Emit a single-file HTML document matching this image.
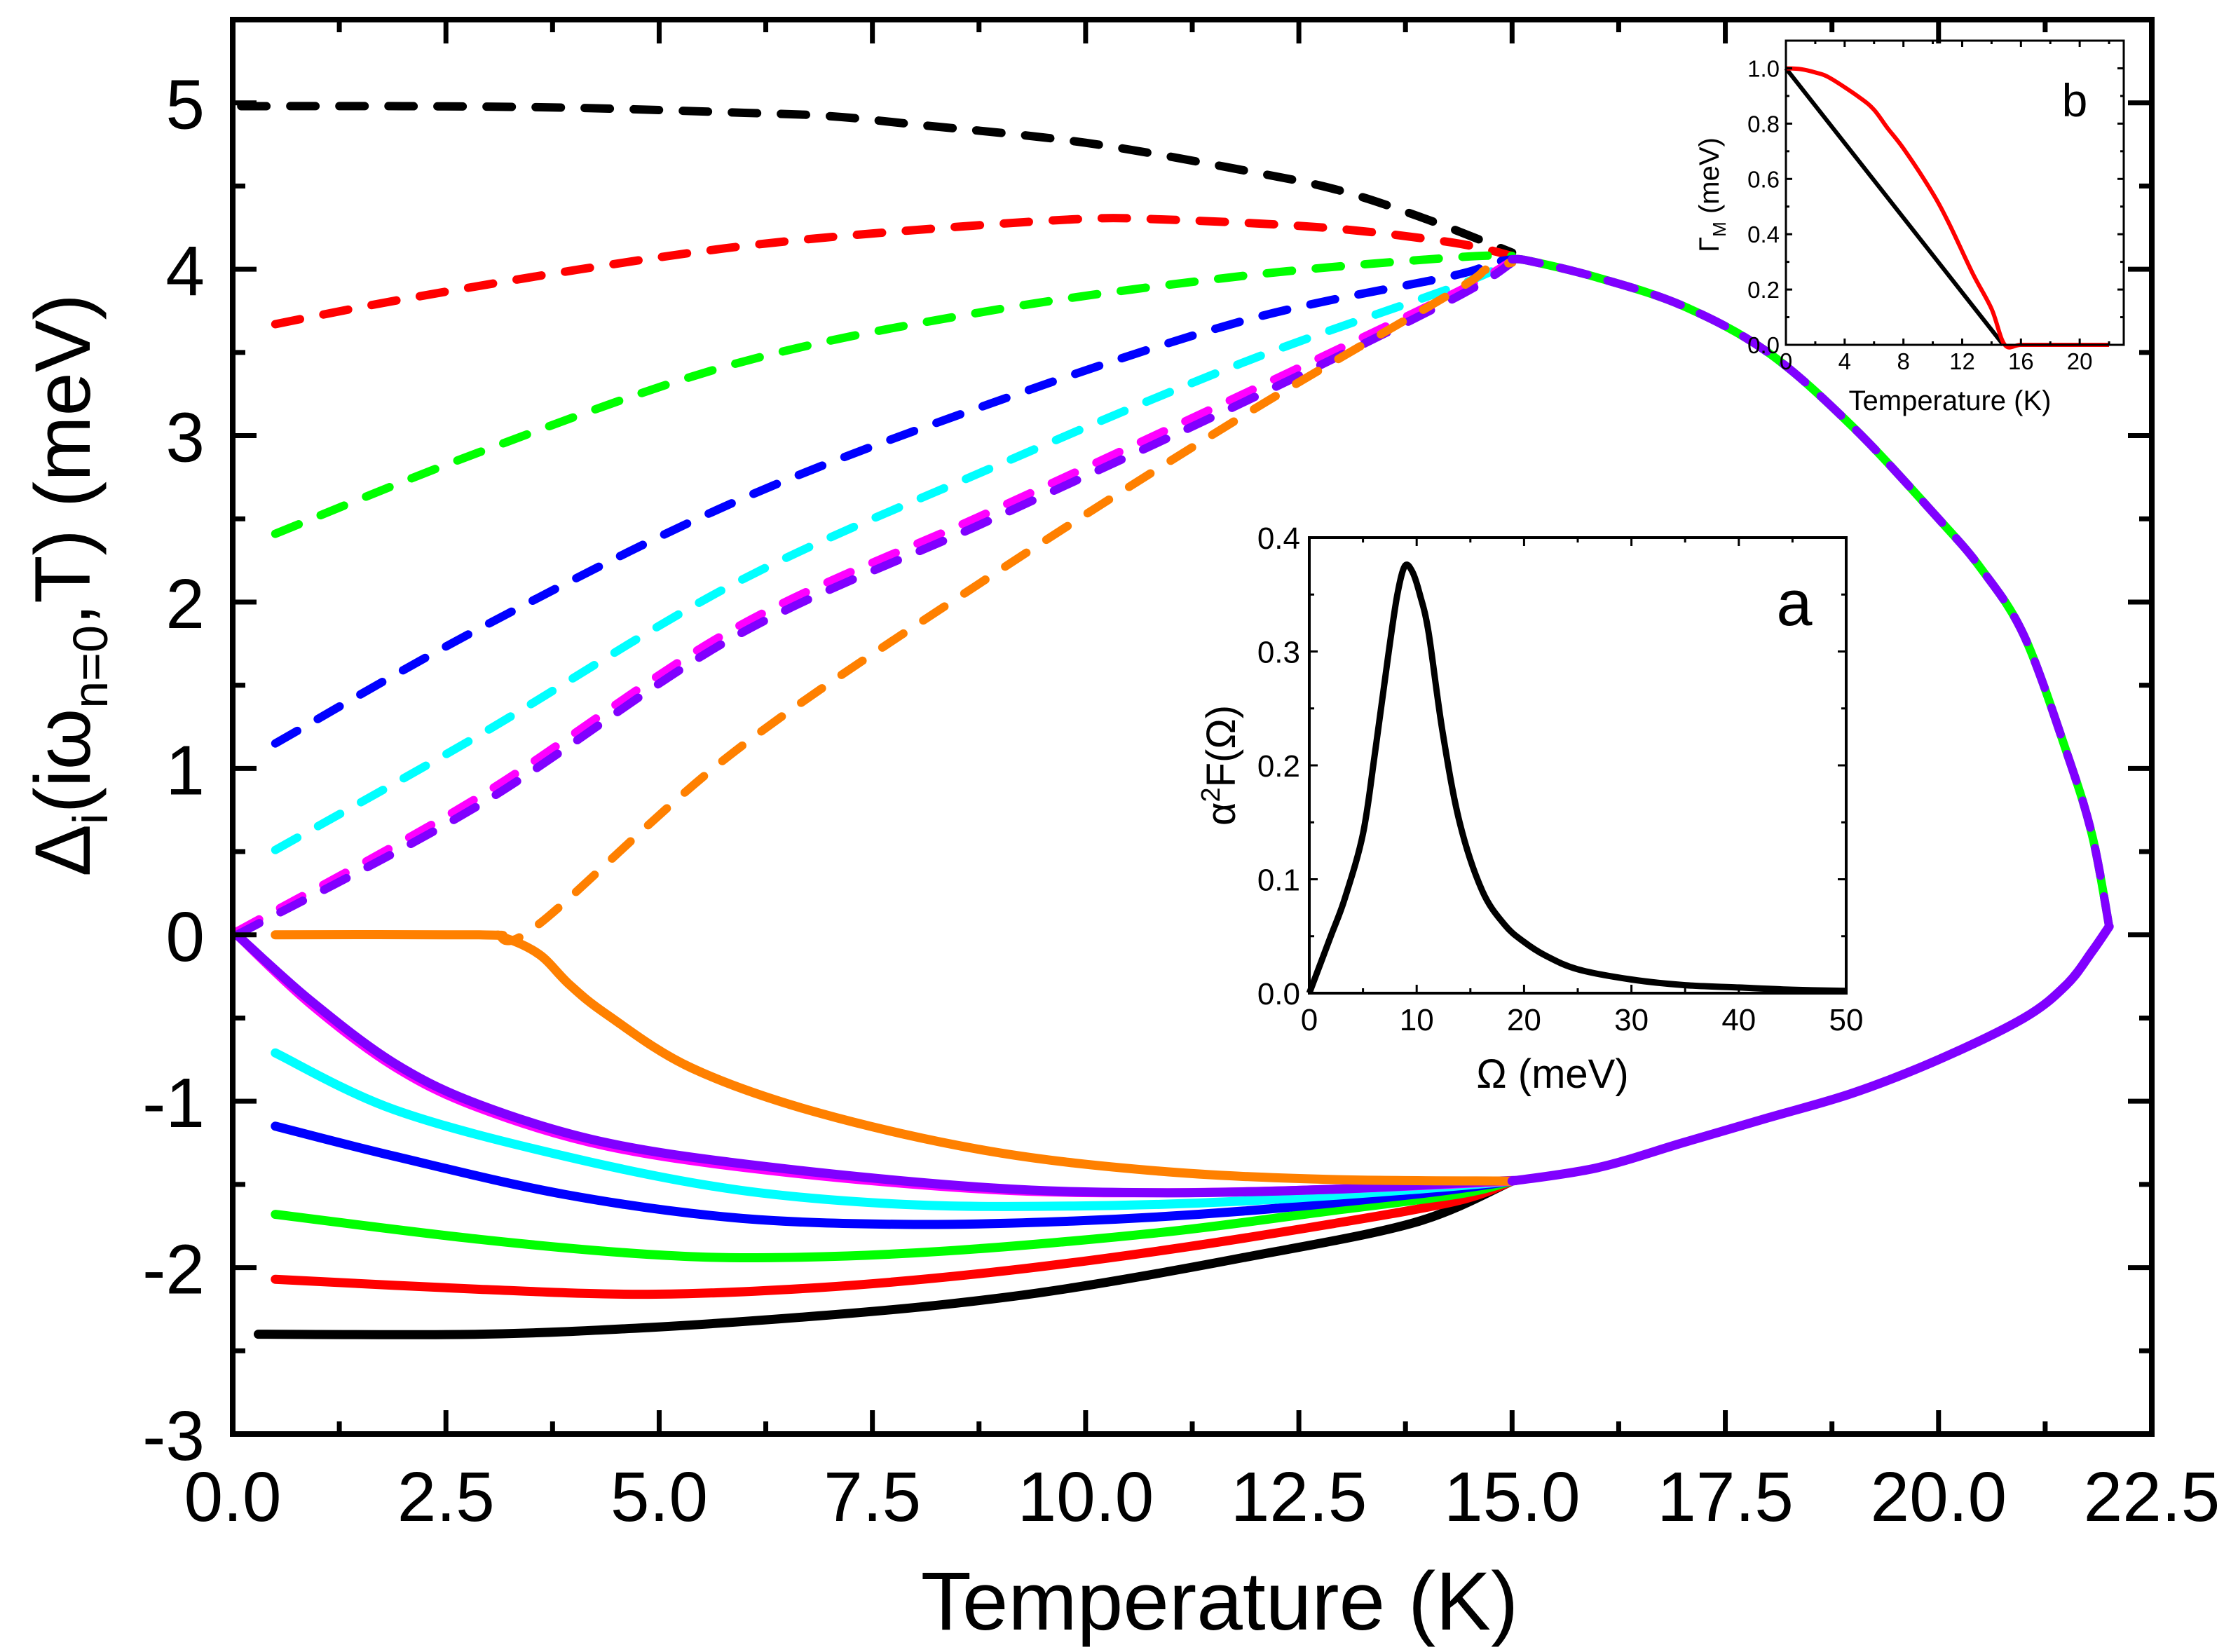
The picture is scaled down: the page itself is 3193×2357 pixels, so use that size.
<!DOCTYPE html>
<html><head><meta charset="utf-8"><style>
html,body{margin:0;padding:0;background:#fff;}
svg{display:block;font-family:"Liberation Sans",Arial,sans-serif;}
</style></head><body>
<svg id="chart" width="3193" height="2357" viewBox="0 0 3193 2357" xmlns="http://www.w3.org/2000/svg">
<rect width="3193" height="2357" fill="#fff"/>
<g id="main"></g>
<g id="insetA"></g>
<g id="insetB"></g>
</svg>
<script>
// ---- main chart data ----
const xTicks = ["0.0","2.5","5.0","7.5","10.0","12.5","15.0","17.5","20.0","22.5"];
const yTicks = ["-3","-2","-1","0","1","2","3","4","5"];
const seriesNames = ["black","red","green","blue","cyan","magenta","violet","orange"];
const seriesColors = ["#000000","#ff0000","#00ff00","#0000ff","#00ffff","#ff00ff","#8000ff","#ff8000"];
const posBlackT = [0.1,2,4,6,7,8,10,12,13,14,15];
const posBlackV = [4.98,4.98,4.97,4.94,4.92,4.87,4.76,4.58,4.47,4.3,4.1];
const posRedT = [0.5,2,4.08,6,7.87,9.86,10.85,12.8,14.3,15];
const posRedV = [3.67,3.82,4.0,4.14,4.23,4.3,4.3,4.25,4.16,4.08];
const posGreenT = [0.5,2.89,5.88,8.87,11.85,14.3,15];
const posGreenV = [2.41,2.9,3.43,3.75,3.96,4.07,4.08];
const posBlueT = [0.5,2.89,5.88,8.87,11.85,14.3,14.7,15];
const posBlueV = [1.15,1.84,2.6,3.19,3.69,3.96,4.03,4.06];
const posCyanT = [0.5,2.89,5.88,8.87,11.85,14.3,15];
const posCyanV = [0.51,1.2,2.11,2.8,3.44,3.89,4.05];
const posMagentaT = [0.05,2.89,5.88,8.87,11.85,14.3,15];
const posMagentaV = [0.02,0.83,1.84,2.54,3.25,3.85,4.05];
const posVioletT = [0.05,2.89,5.88,8.87,11.85,14.3,15];
const posVioletV = [0.0,0.78,1.79,2.49,3.2,3.82,4.04];
const posOrangeT = [3.1,3.58,5.88,8.87,11.85,14.3,14.7,15];
const posOrangeV = [0.0,0.06,1.1,2.15,3.12,3.86,4.0,4.04];
const posCommonT = [15,15.2,16,17,18,19,20,20.5,21,21.5,21.8,22];
const posCommonV = [4.06,4.05,3.95,3.78,3.5,3.05,2.5,2.2,1.8,1.1,0.6,0.05];
const negBlackT = [0.3,2.89,4.87,6.87,8.37,9.86,11.85,13.85,15];
const negBlackV = [-2.4,-2.4,-2.36,-2.29,-2.22,-2.12,-1.94,-1.73,-1.48];
const negRedT = [0.5,2.89,4.87,6.87,8.87,10.86,12.85,14.35,15];
const negRedV = [-2.07,-2.13,-2.16,-2.12,-2.03,-1.9,-1.74,-1.6,-1.48];
const negGreenT = [0.5,2.89,4.87,6.37,8.37,10.86,12.85,14.35,15];
const negGreenV = [-1.68,-1.83,-1.92,-1.94,-1.9,-1.79,-1.66,-1.56,-1.48];
const negBlueT = [0.5,1.89,3.89,5.88,7.87,9.86,11.85,13.85,15];
const negBlueV = [-1.15,-1.33,-1.56,-1.7,-1.74,-1.72,-1.66,-1.56,-1.48];
const negCyanT = [0.5,1.89,3.89,5.88,7.87,9.86,11.85,13.85,15];
const negCyanV = [-0.71,-1.05,-1.33,-1.53,-1.62,-1.63,-1.6,-1.53,-1.48];
const negMagentaT = [0.05,0.9,1.89,2.89,4.39,6.37,8.87,10.86,12.85,15];
const negMagentaV = [0.0,-0.41,-0.79,-1.04,-1.27,-1.42,-1.53,-1.55,-1.53,-1.48];
const negVioletT = [0.05,0.9,1.89,2.89,4.39,6.37,8.87,10.86,12.85,14.84,15];
const negVioletV = [0.0,-0.39,-0.77,-1.02,-1.25,-1.4,-1.52,-1.55,-1.53,-1.48,-1.48];
const negOrangeT = [0.5,2.89,3.2,3.6,3.95,4.39,5.38,6.87,8.87,10.86,12.85,15];
const negOrangeV = [0.0,0.0,-0.02,-0.12,-0.3,-0.48,-0.8,-1.07,-1.3,-1.42,-1.47,-1.48];
const negCommonT = [15,16,17,18,19,20,21,21.5,21.8,22];
const negCommonV = [-1.48,-1.4,-1.25,-1.1,-0.95,-0.75,-0.5,-0.3,-0.1,0.05];
// ---- inset a data ----
const aOmega = [0,2,3.3,5,6.1,7.4,8.2,8.9,9.6,10.3,11.1,12.4,14,16.1,18.2,20,22,25,30,35,40,45,50];
const aValue = [0,0.05,0.083,0.14,0.21,0.3,0.35,0.375,0.37,0.35,0.317,0.23,0.15,0.09,0.06,0.045,0.033,0.021,0.012,0.007,0.005,0.003,0.002];
const aXTicks = ["0","10","20","30","40","50"];
const aYTicks = ["0.0","0.1","0.2","0.3","0.4"];
// ---- inset b data ----
const bRedT = [0,1,2,3,5,6,6.9,8,9.8,11,12.7,14,14.9,16,18,20,22];
const bRedV = [1.0,0.997,0.985,0.965,0.895,0.85,0.785,0.71,0.565,0.45,0.26,0.13,0,0,0,0,0];
const bBlackT = [0,14.8];
const bBlackV = [1.0,0.0];
const bXTicks = ["0","4","8","12","16","20"];
const bYTicks = ["0.0","0.2","0.4","0.6","0.8","1.0"];

const NS="http://www.w3.org/2000/svg";
function mk(parent,tag,attrs,text){const e=document.createElementNS(NS,tag);for(const k in attrs)e.setAttribute(k,attrs[k]);if(text!==undefined)e.textContent=text;parent.appendChild(e);return e;}
function pathD(xs,ys,fx,fy){return xs.map((t,i)=>(i?"L":"M")+fx(t).toFixed(1)+","+fy(ys[i]).toFixed(1)).join("");}
function smoothD(xs,ys,fx,fy){
  const p=xs.map((t,i)=>[fx(t),fy(ys[i])]);
  if(p.length<3)return pathD(xs,ys,fx,fy);
  let d="M"+p[0][0].toFixed(1)+","+p[0][1].toFixed(1);
  for(let i=0;i<p.length-1;i++){
    const p0=p[Math.max(0,i-1)],p1=p[i],p2=p[i+1],p3=p[Math.min(p.length-1,i+2)];
    const c1=[p1[0]+(p2[0]-p0[0])/6,p1[1]+(p2[1]-p0[1])/6];
    const c2=[p2[0]-(p3[0]-p1[0])/6,p2[1]-(p3[1]-p1[1])/6];
    d+="C"+c1[0].toFixed(1)+","+c1[1].toFixed(1)+" "+c2[0].toFixed(1)+","+c2[1].toFixed(1)+" "+p2[0].toFixed(1)+","+p2[1].toFixed(1);
  }
  return d;
}

// ===== main =====
const M=document.getElementById("main");
const L=332,R=3070,T=28,B=2046;
const xmin=0,xmax=22.5,ymin=-3,ymax=5.5;
const X=v=>L+(v-xmin)/(xmax-xmin)*(R-L);
const Y=v=>B-(v-ymin)/(ymax-ymin)*(B-T);
const posT=[posBlackT,posRedT,posGreenT,posBlueT,posCyanT,posMagentaT,posVioletT,posOrangeT];
const posV=[posBlackV,posRedV,posGreenV,posBlueV,posCyanV,posMagentaV,posVioletV,posOrangeV];
const negT=[negBlackT,negRedT,negGreenT,negBlueT,negCyanT,negMagentaT,negVioletT,negOrangeT];
const negV=[negBlackV,negRedV,negGreenV,negBlueV,negCyanV,negMagentaV,negVioletV,negOrangeV];
for(let i=0;i<seriesNames.length;i++){
  const p=mk(M,"path",{d:smoothD(negT[i],negV[i],X,Y),fill:"none",stroke:seriesColors[i],"stroke-width":13,"stroke-linecap":"round","stroke-linejoin":"round"});
  
  
}
for(let i=0;i<seriesNames.length;i++){
  const p=mk(M,"path",{d:smoothD(posT[i],posV[i],X,Y),fill:"none",stroke:seriesColors[i],"stroke-width":12,"stroke-dasharray":"36 34","stroke-linecap":"round"});
  
  
}
const cg=mk(M,"path",{d:smoothD(posCommonT,posCommonV,X,Y),fill:"none",stroke:"#00ff00","stroke-width":12,"stroke-linecap":"round"});


const cv=mk(M,"path",{d:smoothD(posCommonT,posCommonV,X,Y),fill:"none",stroke:"#8000ff","stroke-width":12,"stroke-dasharray":"40 30","stroke-linecap":"round"});


const nc=mk(M,"path",{d:smoothD(negCommonT,negCommonV,X,Y),fill:"none",stroke:"#8000ff","stroke-width":13,"stroke-linecap":"round"});



// frame and ticks
const fr=mk(M,"rect",{x:L,y:T,width:R-L,height:B-T,fill:"none",stroke:"#000","stroke-width":8});


for(let i=0;i<xTicks.length;i++){
  const v=parseFloat(xTicks[i]);const x=X(v);
  mk(M,"line",{x1:x,y1:B,x2:x,y2:B-34,stroke:"#000","stroke-width":7});
  mk(M,"line",{x1:x,y1:T,x2:x,y2:T+34,stroke:"#000","stroke-width":7});
  if(i<xTicks.length-1){const xm=X(v+1.25);
    mk(M,"line",{x1:xm,y1:B,x2:xm,y2:B-18,stroke:"#000","stroke-width":7});
    mk(M,"line",{x1:xm,y1:T,x2:xm,y2:T+18,stroke:"#000","stroke-width":7});}
  const t=mk(M,"text",{x:x,y:2170,"font-size":100,"text-anchor":"middle"},xTicks[i]);
  
  
}
for(let i=0;i<yTicks.length;i++){
  const v=parseFloat(yTicks[i]);const y=Y(v);
  mk(M,"line",{x1:L,y1:y,x2:L+34,y2:y,stroke:"#000","stroke-width":7});
  mk(M,"line",{x1:R,y1:y,x2:R-34,y2:y,stroke:"#000","stroke-width":7});
  const ym=Y(v+0.5);
  mk(M,"line",{x1:L,y1:ym,x2:L+18,y2:ym,stroke:"#000","stroke-width":7});
  mk(M,"line",{x1:R,y1:ym,x2:R-18,y2:ym,stroke:"#000","stroke-width":7});
  const t=mk(M,"text",{x:292,y:y+37,"font-size":100,"text-anchor":"end"},yTicks[i]);
  
  
}
const xt=mk(M,"text",{x:1740,y:2325,"font-size":118,"text-anchor":"middle"},"Temperature  (K)");


const yt=mk(M,"text",{x:0,y:0,"font-size":112,"text-anchor":"middle",transform:"translate(128,835) rotate(-90)"});


yt.innerHTML='Δ<tspan font-size="70" dy="25">i</tspan><tspan dy="-25">(iω</tspan><tspan font-size="70" dy="25">n=0</tspan><tspan dy="-25">,T)  (meV)</tspan>';

// ===== inset a =====
const A=document.getElementById("insetA");
const aL=1868,aR=2634,aT=767,aB=1417;
const AX=v=>aL+v/50*(aR-aL), AY=v=>aB-v/0.4*(aB-aT);
const ac=mk(A,"path",{d:smoothD(aOmega,aValue,AX,AY),fill:"none",stroke:"#000","stroke-width":9,"stroke-linejoin":"round"});


mk(A,"rect",{x:aL,y:aT,width:aR-aL,height:aB-aT,fill:"none",stroke:"#000","stroke-width":4});
for(let i=0;i<aXTicks.length;i++){const v=+aXTicks[i],x=AX(v);
  mk(A,"line",{x1:x,y1:aB,x2:x,y2:aB-12,stroke:"#000","stroke-width":3});
  mk(A,"line",{x1:x,y1:aT,x2:x,y2:aT+12,stroke:"#000","stroke-width":3});
  if(v<50){const xm=AX(v+5);mk(A,"line",{x1:xm,y1:aB,x2:xm,y2:aB-7,stroke:"#000","stroke-width":3});mk(A,"line",{x1:xm,y1:aT,x2:xm,y2:aT+7,stroke:"#000","stroke-width":3});}
  const t=mk(A,"text",{x:x,y:1470,"font-size":44,"text-anchor":"middle"},aXTicks[i]);
  
  
}
for(let i=0;i<aYTicks.length;i++){const v=+aYTicks[i],y=AY(v);
  mk(A,"line",{x1:aL,y1:y,x2:aL+12,y2:y,stroke:"#000","stroke-width":3});
  mk(A,"line",{x1:aR,y1:y,x2:aR-12,y2:y,stroke:"#000","stroke-width":3});
  if(v<0.4){const ym=AY(v+0.05);mk(A,"line",{x1:aL,y1:ym,x2:aL+7,y2:ym,stroke:"#000","stroke-width":3});mk(A,"line",{x1:aR,y1:ym,x2:aR-7,y2:ym,stroke:"#000","stroke-width":3});}
  const t=mk(A,"text",{x:1855,y:y+16,"font-size":44,"text-anchor":"end"},aYTicks[i]);
  
  
}
const axt=mk(A,"text",{x:2215,y:1552,"font-size":58,"text-anchor":"middle"},"Ω  (meV)");


const ayt=mk(A,"text",{x:0,y:0,"font-size":58,"text-anchor":"middle",transform:"translate(1762,1092) rotate(-90)"});


ayt.innerHTML='α<tspan font-size="38" dy="-22">2</tspan><tspan dy="22">F(Ω)</tspan>';
const al=mk(A,"text",{x:2560,y:892,"font-size":92,"text-anchor":"middle"},"a");



// ===== inset b =====
const Bg=document.getElementById("insetB");
const bL=2548,bR=3030,bT=58,bB=492;
const BX=v=>bL+v/23*(bR-bL), BY=v=>bB-v/1.1*(bB-bT);
const bb=mk(Bg,"path",{d:pathD(bBlackT,bBlackV,BX,BY),fill:"none",stroke:"#000","stroke-width":6});


const br=mk(Bg,"path",{d:smoothD(bRedT,bRedV,BX,BY),fill:"none",stroke:"#ff0000","stroke-width":6,"stroke-linejoin":"round"});


mk(Bg,"rect",{x:bL,y:bT,width:bR-bL,height:bB-bT,fill:"none",stroke:"#000","stroke-width":3});
for(let i=0;i<bXTicks.length;i++){const v=+bXTicks[i],x=BX(v);
  mk(Bg,"line",{x1:x,y1:bB,x2:x,y2:bB-9,stroke:"#000","stroke-width":3});
  mk(Bg,"line",{x1:x,y1:bT,x2:x,y2:bT+9,stroke:"#000","stroke-width":3});
  const xm=BX(v+2);mk(Bg,"line",{x1:xm,y1:bB,x2:xm,y2:bB-5,stroke:"#000","stroke-width":3});mk(Bg,"line",{x1:xm,y1:bT,x2:xm,y2:bT+5,stroke:"#000","stroke-width":3});
  const t=mk(Bg,"text",{x:x,y:527,"font-size":33,"text-anchor":"middle"},bXTicks[i]);
  
  
}
for(let i=0;i<bYTicks.length;i++){const v=+bYTicks[i],y=BY(v);
  mk(Bg,"line",{x1:bL,y1:y,x2:bL+9,y2:y,stroke:"#000","stroke-width":3});
  mk(Bg,"line",{x1:bR,y1:y,x2:bR-9,y2:y,stroke:"#000","stroke-width":3});
  const ym=BY(v+0.1);mk(Bg,"line",{x1:bL,y1:ym,x2:bL+5,y2:ym,stroke:"#000","stroke-width":3});mk(Bg,"line",{x1:bR,y1:ym,x2:bR-5,y2:ym,stroke:"#000","stroke-width":3});
  const t=mk(Bg,"text",{x:2539,y:y+12,"font-size":33,"text-anchor":"end"},bYTicks[i]);
  
  
}
const bxt=mk(Bg,"text",{x:2782,y:585,"font-size":40,"text-anchor":"middle"},"Temperature  (K)");


const byt=mk(Bg,"text",{x:0,y:0,"font-size":40,"text-anchor":"middle",transform:"translate(2452,278) rotate(-90)"});


byt.innerHTML='Γ<tspan font-size="26" dy="10">M</tspan><tspan dy="-10">  (meV)</tspan>';
const bl=mk(Bg,"text",{x:2960,y:166,"font-size":66,"text-anchor":"middle"},"b");


</script>
</body></html>
